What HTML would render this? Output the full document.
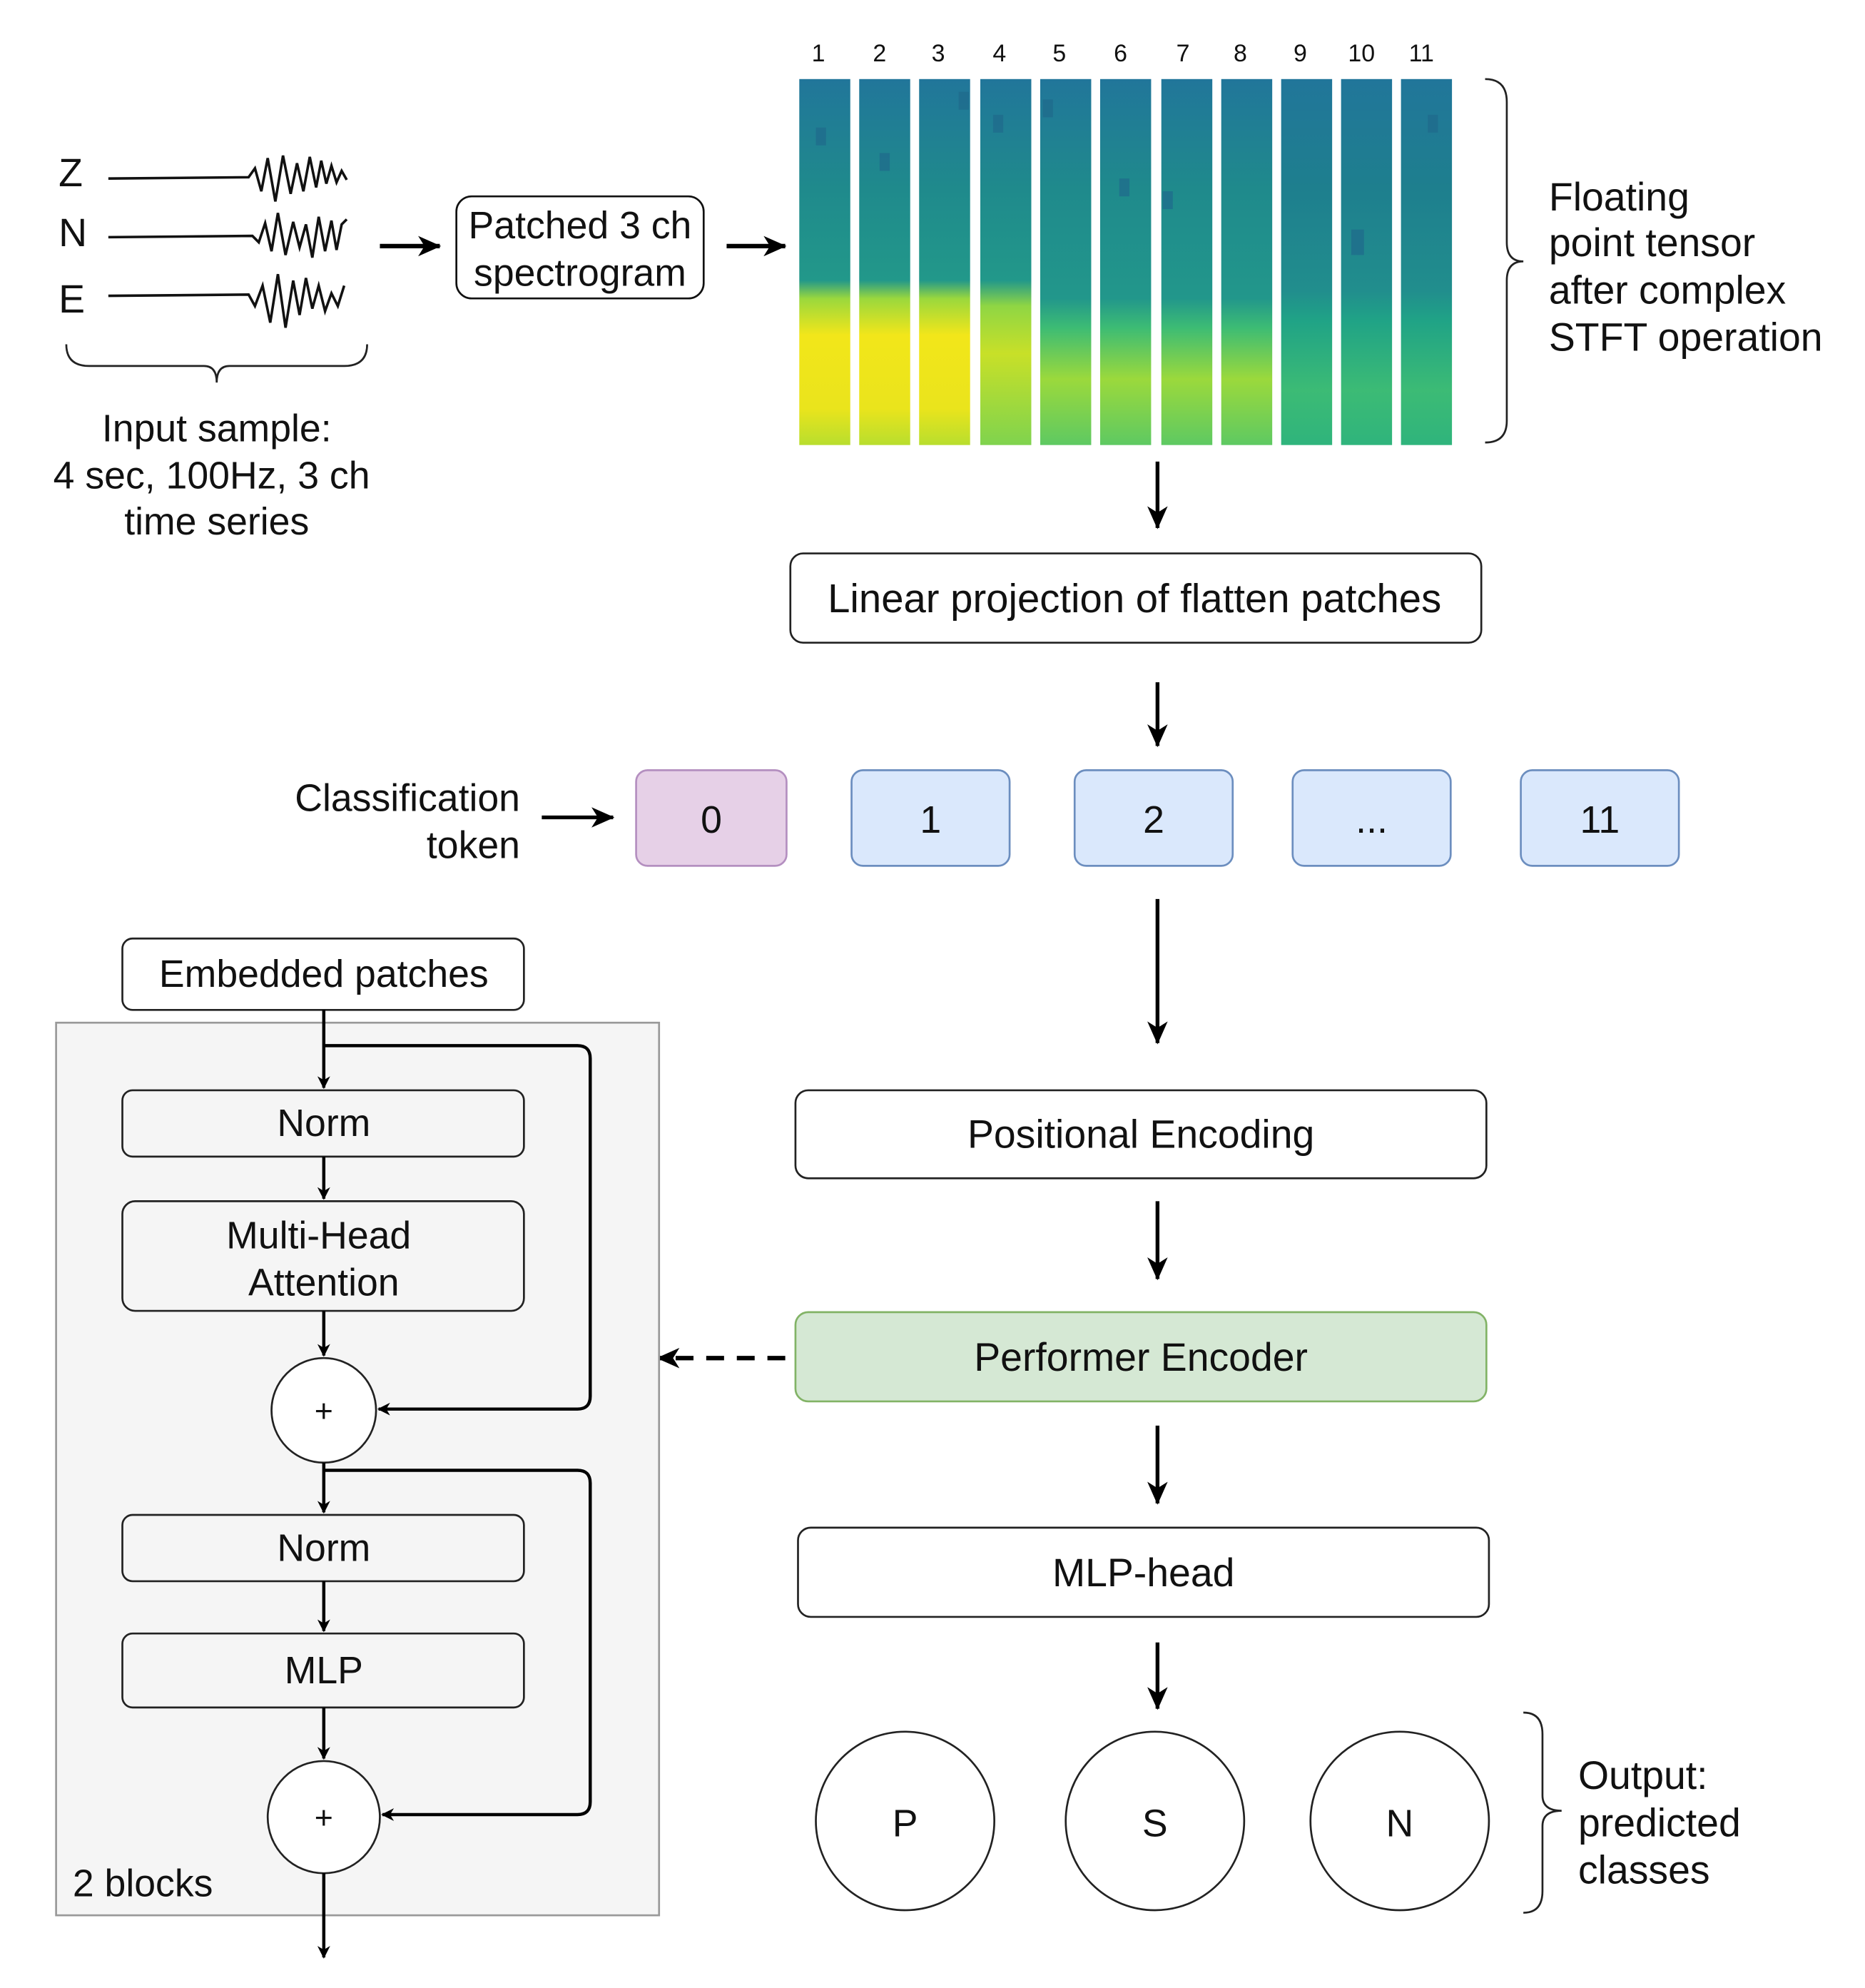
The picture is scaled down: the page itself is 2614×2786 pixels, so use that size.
<!DOCTYPE html>
<html><head><meta charset="utf-8"><style>
html,body{margin:0;padding:0;background:#fff}
svg{display:block}
text{font-family:"Liberation Sans",sans-serif;fill:#111}
</style></head><body>
<svg width="2614" height="2786" viewBox="0 0 1463 1559" preserveAspectRatio="none" xmlns="http://www.w3.org/2000/svg">
<defs>
<marker id="ah" markerWidth="10" markerHeight="10" refX="9" refY="5" orient="auto" markerUnits="userSpaceOnUse" viewBox="0 0 10 10"><path d="M0,0 L10,5 L0,10 L3,5 z" fill="#000"/></marker>
<marker id="ab" markerWidth="18" markerHeight="16" refX="17" refY="8" orient="auto" markerUnits="userSpaceOnUse" viewBox="0 0 18 16"><path d="M0,0 L18,8 L0,16 L5,8 z" fill="#000"/></marker>
<linearGradient id="gA" x1="0" y1="0" x2="0" y2="1">
<stop offset="0" stop-color="#21769a"/><stop offset="0.3" stop-color="#1f8a8c"/><stop offset="0.55" stop-color="#22988a"/><stop offset="0.6" stop-color="#9ad83d"/><stop offset="0.7" stop-color="#f2e61a"/><stop offset="0.9" stop-color="#eae41c"/><stop offset="1" stop-color="#b8de2e"/></linearGradient>
<linearGradient id="gB" x1="0" y1="0" x2="0" y2="1">
<stop offset="0" stop-color="#21769a"/><stop offset="0.3" stop-color="#1f8a8c"/><stop offset="0.55" stop-color="#22988a"/><stop offset="0.62" stop-color="#8fd644"/><stop offset="0.75" stop-color="#c8e028"/><stop offset="1" stop-color="#7fd34e"/></linearGradient>
<linearGradient id="gC" x1="0" y1="0" x2="0" y2="1">
<stop offset="0" stop-color="#21769a"/><stop offset="0.3" stop-color="#1f8a8c"/><stop offset="0.6" stop-color="#22978b"/><stop offset="0.68" stop-color="#3dbc74"/><stop offset="0.82" stop-color="#9bd93c"/><stop offset="1" stop-color="#5ec962"/></linearGradient>
<linearGradient id="gD" x1="0" y1="0" x2="0" y2="1">
<stop offset="0" stop-color="#21769a"/><stop offset="0.3" stop-color="#1e7f8e"/><stop offset="0.58" stop-color="#218e8d"/><stop offset="0.66" stop-color="#20a386"/><stop offset="0.85" stop-color="#3cbb75"/><stop offset="1" stop-color="#2fb47c"/></linearGradient>
</defs>

<g font-size="19" text-anchor="middle">
<text x="642" y="48">1</text><text x="690" y="48">2</text><text x="736" y="48">3</text><text x="784" y="48">4</text><text x="831" y="48">5</text><text x="879" y="48">6</text><text x="928" y="48">7</text><text x="973" y="48">8</text><text x="1020" y="48">9</text><text x="1068" y="48">10</text><text x="1115" y="48">11</text>
</g>
<g>
<rect x="627" y="62" width="40" height="287" fill="url(#gA)"/>
<rect x="674" y="62" width="40" height="287" fill="url(#gA)"/>
<rect x="721" y="62" width="40" height="287" fill="url(#gA)"/>
<rect x="769" y="62" width="40" height="287" fill="url(#gB)"/>
<rect x="816" y="62" width="40" height="287" fill="url(#gC)"/>
<rect x="863" y="62" width="40" height="287" fill="url(#gC)"/>
<rect x="911" y="62" width="40" height="287" fill="url(#gC)"/>
<rect x="958" y="62" width="40" height="287" fill="url(#gC)"/>
<rect x="1005" y="62" width="40" height="287" fill="url(#gD)"/>
<rect x="1052" y="62" width="40" height="287" fill="url(#gD)"/>
<rect x="1099" y="62" width="40" height="287" fill="url(#gD)"/>
<g fill="#1f6a8c" opacity="0.7">
<rect x="752" y="72" width="8" height="14"/><rect x="779" y="90" width="8" height="14"/><rect x="818" y="78" width="8" height="14"/><rect x="878" y="140" width="8" height="14"/><rect x="912" y="150" width="8" height="14"/><rect x="1120" y="90" width="8" height="14"/><rect x="640" y="100" width="8" height="14"/><rect x="690" y="120" width="8" height="14"/><rect x="1060" y="180" width="10" height="20"/>
</g>
</g>
<path d="M1165,62 Q1182,62 1182,80 L1182,190 Q1182,205 1195,205 Q1182,205 1182,220 L1182,330 Q1182,347 1165,347" fill="none" stroke="#222" stroke-width="1.5"/>
<g font-size="31"><text x="1215" y="165">Floating</text><text x="1215" y="201">point tensor</text><text x="1215" y="238">after complex</text><text x="1215" y="275">STFT operation</text></g>

<g font-size="31"><text x="46" y="146">Z</text><text x="46" y="193">N</text><text x="46" y="245">E</text></g>
<g fill="none" stroke="#111" stroke-width="2">
<polyline points="85,140 195,139 200,132 205,150 210,124 216,158 222,122 228,152 233,128 238,150 243,123 248,147 252,126 256,144 260,130 264,143 268,134 272,141"/>
<polyline points="85,186 198,185 203,190 208,175 213,197 218,167 224,200 230,174 235,194 240,176 245,202 250,170 255,197 260,173 264,196 268,176 272,172"/>
<polyline points="85,232 195,231 200,240 206,224 212,253 218,215 224,257 230,220 235,247 240,218 245,242 250,224 255,244 260,230 265,240 270,224"/>
</g>
<path d="M52,270 Q52,287 70,287 L160,287 Q170,287 170,300 Q170,287 180,287 L270,287 Q288,287 288,270" fill="none" stroke="#222" stroke-width="1.5"/>
<g font-size="30" text-anchor="middle"><text x="170" y="346">Input sample:</text><text x="166" y="383">4 sec, 100Hz, 3 ch</text><text x="170" y="419">time series</text></g>

<line x1="298" y1="193" x2="345" y2="193" stroke="#000" stroke-width="3.5" marker-end="url(#ab)"/>
<rect x="358" y="154" width="194" height="80" rx="12" fill="#fff" stroke="#111" stroke-width="1.5"/>
<g font-size="30" text-anchor="middle"><text x="455" y="187">Patched 3 ch</text><text x="455" y="224">spectrogram</text></g>
<line x1="570" y1="193" x2="616" y2="193" stroke="#000" stroke-width="3.5" marker-end="url(#ab)"/>

<g stroke="#000" stroke-width="3">
<line x1="908" y1="362" x2="908" y2="414" marker-end="url(#ab)"/>
<line x1="908" y1="535" x2="908" y2="585" marker-end="url(#ab)"/>
<line x1="908" y1="705" x2="908" y2="818" marker-end="url(#ab)"/>
<line x1="908" y1="942" x2="908" y2="1003" marker-end="url(#ab)"/>
<line x1="908" y1="1118" x2="908" y2="1179" marker-end="url(#ab)"/>
<line x1="908" y1="1288" x2="908" y2="1340" marker-end="url(#ab)"/>
<line x1="425" y1="641" x2="481" y2="641" marker-end="url(#ab)"/>
</g>
<rect x="620" y="434" width="542" height="70" rx="10" fill="#fff" stroke="#222" stroke-width="1.5"/>
<text x="890" y="480" font-size="31.5" text-anchor="middle">Linear projection of flatten patches</text>

<g font-size="30" text-anchor="end"><text x="408" y="636">Classification</text><text x="408" y="673">token</text></g>
<rect x="499" y="604" width="118" height="75" rx="9" fill="#e6d0e7" stroke="#b48fc0" stroke-width="1.5"/>
<rect x="668" y="604" width="124" height="75" rx="9" fill="#dae8fc" stroke="#6c8ebf" stroke-width="1.5"/>
<rect x="843" y="604" width="124" height="75" rx="9" fill="#dae8fc" stroke="#6c8ebf" stroke-width="1.5"/>
<rect x="1014" y="604" width="124" height="75" rx="9" fill="#dae8fc" stroke="#6c8ebf" stroke-width="1.5"/>
<rect x="1193" y="604" width="124" height="75" rx="9" fill="#dae8fc" stroke="#6c8ebf" stroke-width="1.5"/>
<g font-size="30" text-anchor="middle"><text x="558" y="653">0</text><text x="730" y="653">1</text><text x="905" y="653">2</text><text x="1076" y="653">...</text><text x="1255" y="653">11</text></g>

<rect x="624" y="855" width="542" height="69" rx="10" fill="#fff" stroke="#222" stroke-width="1.5"/>
<text x="895" y="900" font-size="31" text-anchor="middle">Positional Encoding</text>
<rect x="624" y="1029" width="542" height="70" rx="10" fill="#d5e8d4" stroke="#82b366" stroke-width="1.5"/>
<text x="895" y="1075" font-size="31" text-anchor="middle">Performer Encoder</text>
<line x1="616" y1="1065" x2="516" y2="1065" stroke="#000" stroke-width="3.5" stroke-dasharray="14,10" marker-end="url(#ab)"/>
<rect x="626" y="1198" width="542" height="70" rx="10" fill="#fff" stroke="#222" stroke-width="1.5"/>
<text x="897" y="1244" font-size="31" text-anchor="middle">MLP-head</text>

<g fill="#fff" stroke="#222" stroke-width="1.5"><circle cx="710" cy="1428" r="70"/><circle cx="906" cy="1428" r="70"/><circle cx="1098" cy="1428" r="70"/></g>
<g font-size="30" text-anchor="middle"><text x="710" y="1440">P</text><text x="906" y="1440">S</text><text x="1098" y="1440">N</text></g>
<path d="M1195,1343 Q1210,1343 1210,1360 L1210,1408 Q1210,1420 1225,1420 Q1210,1420 1210,1432 L1210,1483 Q1210,1500 1195,1500" fill="none" stroke="#222" stroke-width="1.5"/>
<g font-size="31"><text x="1238" y="1403">Output:</text><text x="1238" y="1440">predicted</text><text x="1238" y="1477">classes</text></g>

<rect x="44" y="802" width="473" height="700" fill="#f5f5f5" stroke="#999" stroke-width="1.5"/>
<rect x="96" y="736" width="315" height="56" rx="8" fill="#fff" stroke="#222" stroke-width="1.5"/>
<text x="254" y="774" font-size="30" text-anchor="middle">Embedded patches</text>
<rect x="96" y="855" width="315" height="52" rx="8" fill="#f5f5f5" stroke="#222" stroke-width="1.5"/>
<text x="254" y="891" font-size="30" text-anchor="middle">Norm</text>
<rect x="96" y="942" width="315" height="86" rx="10" fill="#f5f5f5" stroke="#222" stroke-width="1.5"/>
<g font-size="30" text-anchor="middle"><text x="250" y="979">Multi-Head</text><text x="254" y="1016">Attention</text></g>
<circle cx="254" cy="1106" r="41" fill="#fff" stroke="#222" stroke-width="1.5"/>
<text x="254" y="1115" font-size="25" text-anchor="middle">+</text>
<rect x="96" y="1188" width="315" height="52" rx="8" fill="#f5f5f5" stroke="#222" stroke-width="1.5"/>
<text x="254" y="1224" font-size="30" text-anchor="middle">Norm</text>
<rect x="96" y="1281" width="315" height="58" rx="8" fill="#f5f5f5" stroke="#222" stroke-width="1.5"/>
<text x="254" y="1320" font-size="30" text-anchor="middle">MLP</text>
<circle cx="254" cy="1425" r="44" fill="#fff" stroke="#222" stroke-width="1.5"/>
<text x="254" y="1434" font-size="25" text-anchor="middle">+</text>
<text x="57" y="1487" font-size="30">2 blocks</text>

<g stroke="#000" stroke-width="2.5" fill="none">
<line x1="254" y1="792" x2="254" y2="853" marker-end="url(#ah)"/>
<line x1="254" y1="907" x2="254" y2="940" marker-end="url(#ah)"/>
<line x1="254" y1="1028" x2="254" y2="1063" marker-end="url(#ah)"/>
<line x1="254" y1="1147" x2="254" y2="1186" marker-end="url(#ah)"/>
<line x1="254" y1="1240" x2="254" y2="1279" marker-end="url(#ah)"/>
<line x1="254" y1="1339" x2="254" y2="1379" marker-end="url(#ah)"/>
<line x1="254" y1="1469" x2="254" y2="1535" marker-end="url(#ah)"/>
<path d="M254,820 L453,820 Q463,820 463,830 L463,1095 Q463,1105 453,1105 L297,1105" marker-end="url(#ah)"/>
<path d="M254,1153 L453,1153 Q463,1153 463,1163 L463,1413 Q463,1423 453,1423 L300,1423" marker-end="url(#ah)"/>
</g>
</svg>
</body></html>
